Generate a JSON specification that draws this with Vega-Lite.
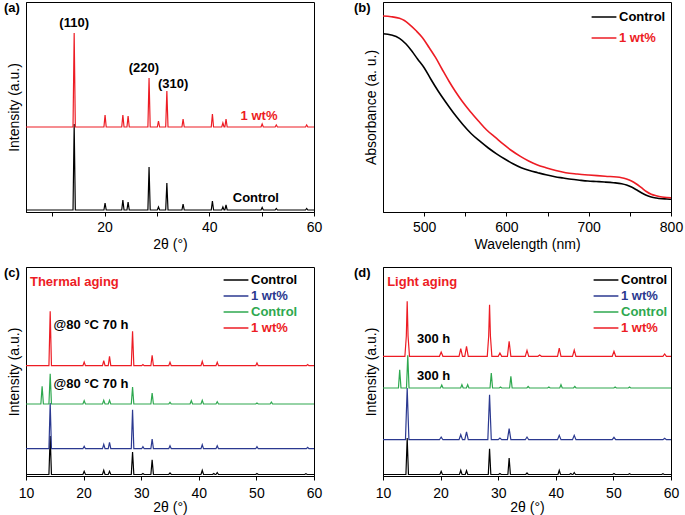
{
"$schema":"https://vega.github.io/schema/vega-lite/v6.json",
"padding":{"left":3,"top":1,"right":0,"bottom":0},
"config":{"font":"Liberation Sans","view":{"stroke":"black","strokeWidth":1},
"axis":{"grid":false,"domainColor":"black","tickColor":"black","tickSize":4,"labelFontSize":14,"labelColor":"black","titleFontSize":14,"titleFontWeight":"normal","titleColor":"black","labelFlush":false,"labelOverlap":false},
"axisY":{"labels":false,"ticks":false,"titlePadding":5},
"legend":{"orient":"none","symbolType":"M-1.55,0H1.55","symbolSize":256,"symbolStrokeWidth":1.5,"labelFontSize":13,"labelFontWeight":"bold","labelOffset":6,"padding":0},
"title":{"fontSize":13,"fontWeight":"bold","anchor":"start","frame":"bounds","offset":-13,"color":"black"}},
"datasets":{
"a":[
{"s":"Control","x":5,"y":2},{"s":"Control","x":13.98,"y":2},{"s":"Control","x":14.2,"y":88},{"s":"Control","x":14.42,"y":2},{"s":"Control","x":19.88,"y":2},{"s":"Control","x":20.1,"y":9},{"s":"Control","x":20.32,"y":2},{"s":"Control","x":23.28,"y":2},{"s":"Control","x":23.5,"y":12},{"s":"Control","x":23.72,"y":2},{"s":"Control","x":24.28,"y":2},{"s":"Control","x":24.5,"y":10},{"s":"Control","x":24.72,"y":2},{"s":"Control","x":28.28,"y":2},{"s":"Control","x":28.5,"y":45},{"s":"Control","x":28.72,"y":2},{"s":"Control","x":30.08,"y":2},{"s":"Control","x":30.3,"y":5},{"s":"Control","x":30.52,"y":2},{"s":"Control","x":31.68,"y":2},{"s":"Control","x":31.9,"y":29},{"s":"Control","x":32.12,"y":2},{"s":"Control","x":34.78,"y":2},{"s":"Control","x":35,"y":8},{"s":"Control","x":35.22,"y":2},{"s":"Control","x":40.38,"y":2},{"s":"Control","x":40.6,"y":11},{"s":"Control","x":40.82,"y":2},{"s":"Control","x":42.38,"y":2},{"s":"Control","x":42.6,"y":5},{"s":"Control","x":42.82,"y":2},{"s":"Control","x":42.98,"y":2},{"s":"Control","x":43.2,"y":7},{"s":"Control","x":43.42,"y":2},{"s":"Control","x":49.88,"y":2},{"s":"Control","x":50.1,"y":4.5},{"s":"Control","x":50.32,"y":2},{"s":"Control","x":52.58,"y":2},{"s":"Control","x":52.8,"y":3.5},{"s":"Control","x":53.02,"y":2},{"s":"Control","x":58.38,"y":2},{"s":"Control","x":58.6,"y":3.5},{"s":"Control","x":58.82,"y":2},{"s":"Control","x":60,"y":2},
{"s":"1 wt%","x":5,"y":85},{"s":"1 wt%","x":13.98,"y":85},{"s":"1 wt%","x":14.2,"y":179},{"s":"1 wt%","x":14.42,"y":85},{"s":"1 wt%","x":19.88,"y":85},{"s":"1 wt%","x":20.1,"y":97},{"s":"1 wt%","x":20.32,"y":85},{"s":"1 wt%","x":23.28,"y":85},{"s":"1 wt%","x":23.5,"y":97},{"s":"1 wt%","x":23.72,"y":85},{"s":"1 wt%","x":24.28,"y":85},{"s":"1 wt%","x":24.5,"y":96},{"s":"1 wt%","x":24.72,"y":85},{"s":"1 wt%","x":28.28,"y":85},{"s":"1 wt%","x":28.5,"y":134},{"s":"1 wt%","x":28.72,"y":85},{"s":"1 wt%","x":30.08,"y":85},{"s":"1 wt%","x":30.3,"y":91},{"s":"1 wt%","x":30.52,"y":85},{"s":"1 wt%","x":31.68,"y":85},{"s":"1 wt%","x":31.9,"y":121},{"s":"1 wt%","x":32.12,"y":85},{"s":"1 wt%","x":34.78,"y":85},{"s":"1 wt%","x":35,"y":93},{"s":"1 wt%","x":35.22,"y":85},{"s":"1 wt%","x":40.38,"y":85},{"s":"1 wt%","x":40.6,"y":98},{"s":"1 wt%","x":40.82,"y":85},{"s":"1 wt%","x":42.38,"y":85},{"s":"1 wt%","x":42.6,"y":89},{"s":"1 wt%","x":42.82,"y":85},{"s":"1 wt%","x":42.98,"y":85},{"s":"1 wt%","x":43.2,"y":93},{"s":"1 wt%","x":43.42,"y":85},{"s":"1 wt%","x":49.88,"y":85},{"s":"1 wt%","x":50.1,"y":88},{"s":"1 wt%","x":50.32,"y":85},{"s":"1 wt%","x":52.58,"y":85},{"s":"1 wt%","x":52.8,"y":87},{"s":"1 wt%","x":53.02,"y":85},{"s":"1 wt%","x":58.38,"y":85},{"s":"1 wt%","x":58.6,"y":87},{"s":"1 wt%","x":58.82,"y":85},{"s":"1 wt%","x":60,"y":85}
],
"aLab":[{"t":"(110)","x":14.2,"y":189},{"t":"(220)","x":27.5,"y":144},{"t":"(310)","x":33.1,"y":128},{"t":"1 wt%","x":49.5,"y":96},{"t":"Control","x":48.9,"y":14}],
"b":[
{"s":"Control","x":450,"y":178.3},{"s":"Control","x":460,"y":177},{"s":"Control","x":470,"y":173.7},{"s":"Control","x":478,"y":168},{"s":"Control","x":485,"y":161},{"s":"Control","x":492,"y":153},{"s":"Control","x":500,"y":144.3},{"s":"Control","x":508,"y":133},{"s":"Control","x":517,"y":121},{"s":"Control","x":527,"y":109},{"s":"Control","x":537,"y":97.7},{"s":"Control","x":547,"y":87.5},{"s":"Control","x":557,"y":78.5},{"s":"Control","x":567,"y":71.3},{"s":"Control","x":578,"y":64},{"s":"Control","x":588,"y":58.2},{"s":"Control","x":598,"y":53},{"s":"Control","x":608,"y":48.3},{"s":"Control","x":618,"y":44.3},{"s":"Control","x":628,"y":41.5},{"s":"Control","x":638,"y":39.3},{"s":"Control","x":648,"y":37.2},{"s":"Control","x":659,"y":35.3},{"s":"Control","x":669,"y":34},{"s":"Control","x":679,"y":32.7},{"s":"Control","x":689,"y":31.8},{"s":"Control","x":699,"y":31},{"s":"Control","x":709,"y":30.5},{"s":"Control","x":719,"y":30},{"s":"Control","x":730,"y":29.3},{"s":"Control","x":740,"y":28.3},{"s":"Control","x":746,"y":27},{"s":"Control","x":752,"y":25},{"s":"Control","x":758,"y":22.2},{"s":"Control","x":764,"y":19.3},{"s":"Control","x":770,"y":16.8},{"s":"Control","x":776,"y":15},{"s":"Control","x":782,"y":14},{"s":"Control","x":789,"y":13.3},{"s":"Control","x":795,"y":13},{"s":"Control","x":800,"y":12.7},
{"s":"1 wt%","x":450,"y":196},{"s":"1 wt%","x":460,"y":195.3},{"s":"1 wt%","x":470,"y":193.7},{"s":"1 wt%","x":476,"y":191.5},{"s":"1 wt%","x":482,"y":187.7},{"s":"1 wt%","x":490,"y":181.5},{"s":"1 wt%","x":498,"y":174.3},{"s":"1 wt%","x":506,"y":164.5},{"s":"1 wt%","x":514,"y":154.3},{"s":"1 wt%","x":522,"y":142.5},{"s":"1 wt%","x":530,"y":131},{"s":"1 wt%","x":538,"y":120.5},{"s":"1 wt%","x":546,"y":111},{"s":"1 wt%","x":556,"y":100.5},{"s":"1 wt%","x":566,"y":91},{"s":"1 wt%","x":576,"y":82},{"s":"1 wt%","x":587,"y":74.3},{"s":"1 wt%","x":597,"y":67.3},{"s":"1 wt%","x":607,"y":61},{"s":"1 wt%","x":617,"y":55.6},{"s":"1 wt%","x":627,"y":51},{"s":"1 wt%","x":637,"y":47.3},{"s":"1 wt%","x":648,"y":44.3},{"s":"1 wt%","x":660,"y":41.5},{"s":"1 wt%","x":672,"y":39.3},{"s":"1 wt%","x":686,"y":38},{"s":"1 wt%","x":700,"y":37},{"s":"1 wt%","x":720,"y":35.8},{"s":"1 wt%","x":740,"y":34.3},{"s":"1 wt%","x":746,"y":33},{"s":"1 wt%","x":752,"y":31},{"s":"1 wt%","x":758,"y":28},{"s":"1 wt%","x":764,"y":24.3},{"s":"1 wt%","x":770,"y":20.5},{"s":"1 wt%","x":776,"y":17.7},{"s":"1 wt%","x":782,"y":16.2},{"s":"1 wt%","x":789,"y":15},{"s":"1 wt%","x":795,"y":14.5},{"s":"1 wt%","x":800,"y":14.3}
],
"c":[
{"s":"Control","x":10,"y":1.5},{"s":"Control","x":13.98,"y":1.5},{"s":"Control","x":14.2,"y":40},{"s":"Control","x":14.42,"y":1.5},{"s":"Control","x":19.88,"y":1.5},{"s":"Control","x":20.1,"y":4.7},{"s":"Control","x":20.32,"y":1.5},{"s":"Control","x":23.28,"y":1.5},{"s":"Control","x":23.5,"y":5.7},{"s":"Control","x":23.72,"y":1.5},{"s":"Control","x":24.28,"y":1.5},{"s":"Control","x":24.5,"y":4.7},{"s":"Control","x":24.72,"y":1.5},{"s":"Control","x":28.28,"y":1.5},{"s":"Control","x":28.5,"y":24},{"s":"Control","x":28.72,"y":1.5},{"s":"Control","x":30.08,"y":1.5},{"s":"Control","x":30.3,"y":2.5},{"s":"Control","x":30.52,"y":1.5},{"s":"Control","x":31.68,"y":1.5},{"s":"Control","x":31.9,"y":16.3},{"s":"Control","x":32.12,"y":1.5},{"s":"Control","x":34.78,"y":1.5},{"s":"Control","x":35,"y":3},{"s":"Control","x":35.22,"y":1.5},{"s":"Control","x":40.38,"y":1.5},{"s":"Control","x":40.6,"y":5.7},{"s":"Control","x":40.82,"y":1.5},{"s":"Control","x":42.38,"y":1.5},{"s":"Control","x":42.6,"y":2.5},{"s":"Control","x":42.82,"y":1.5},{"s":"Control","x":42.98,"y":1.5},{"s":"Control","x":43.2,"y":3.5},{"s":"Control","x":43.42,"y":1.5},{"s":"Control","x":49.88,"y":1.5},{"s":"Control","x":50.1,"y":2.5},{"s":"Control","x":50.32,"y":1.5},{"s":"Control","x":58.38,"y":1.5},{"s":"Control","x":58.6,"y":2.2},{"s":"Control","x":58.82,"y":1.5},{"s":"Control","x":60,"y":1.5},
{"s":"1 wt%","x":10,"y":27.3},{"s":"1 wt%","x":13.98,"y":27.3},{"s":"1 wt%","x":14.2,"y":73},{"s":"1 wt%","x":14.42,"y":27.3},{"s":"1 wt%","x":19.88,"y":27.3},{"s":"1 wt%","x":20.1,"y":29.7},{"s":"1 wt%","x":20.32,"y":27.3},{"s":"1 wt%","x":23.28,"y":27.3},{"s":"1 wt%","x":23.5,"y":31.7},{"s":"1 wt%","x":23.72,"y":27.3},{"s":"1 wt%","x":24.28,"y":27.3},{"s":"1 wt%","x":24.5,"y":33.7},{"s":"1 wt%","x":24.72,"y":27.3},{"s":"1 wt%","x":28.28,"y":27.3},{"s":"1 wt%","x":28.5,"y":66.3},{"s":"1 wt%","x":28.72,"y":27.3},{"s":"1 wt%","x":30.08,"y":27.3},{"s":"1 wt%","x":30.3,"y":29.3},{"s":"1 wt%","x":30.52,"y":27.3},{"s":"1 wt%","x":31.68,"y":27.3},{"s":"1 wt%","x":31.9,"y":37},{"s":"1 wt%","x":32.12,"y":27.3},{"s":"1 wt%","x":34.78,"y":27.3},{"s":"1 wt%","x":35,"y":30.3},{"s":"1 wt%","x":35.22,"y":27.3},{"s":"1 wt%","x":40.38,"y":27.3},{"s":"1 wt%","x":40.6,"y":31.3},{"s":"1 wt%","x":40.82,"y":27.3},{"s":"1 wt%","x":42.98,"y":27.3},{"s":"1 wt%","x":43.2,"y":30.3},{"s":"1 wt%","x":43.42,"y":27.3},{"s":"1 wt%","x":49.88,"y":27.3},{"s":"1 wt%","x":50.1,"y":29.3},{"s":"1 wt%","x":50.32,"y":27.3},{"s":"1 wt%","x":58.68,"y":27.3},{"s":"1 wt%","x":58.9,"y":28.7},{"s":"1 wt%","x":59.12,"y":27.3},{"s":"1 wt%","x":60,"y":27.3},
{"s":"Control (aged)","x":10,"y":72},{"s":"Control (aged)","x":12.58,"y":72},{"s":"Control (aged)","x":12.8,"y":89.7},{"s":"Control (aged)","x":13.02,"y":72},{"s":"Control (aged)","x":13.98,"y":72},{"s":"Control (aged)","x":14.2,"y":102.3},{"s":"Control (aged)","x":14.42,"y":72},{"s":"Control (aged)","x":19.88,"y":72},{"s":"Control (aged)","x":20.1,"y":75.3},{"s":"Control (aged)","x":20.32,"y":72},{"s":"Control (aged)","x":23.28,"y":72},{"s":"Control (aged)","x":23.5,"y":75.7},{"s":"Control (aged)","x":23.72,"y":72},{"s":"Control (aged)","x":24.28,"y":72},{"s":"Control (aged)","x":24.5,"y":75.7},{"s":"Control (aged)","x":24.72,"y":72},{"s":"Control (aged)","x":28.28,"y":72},{"s":"Control (aged)","x":28.5,"y":89},{"s":"Control (aged)","x":28.72,"y":72},{"s":"Control (aged)","x":31.68,"y":72},{"s":"Control (aged)","x":31.9,"y":83},{"s":"Control (aged)","x":32.12,"y":72},{"s":"Control (aged)","x":34.78,"y":72},{"s":"Control (aged)","x":35,"y":73.7},{"s":"Control (aged)","x":35.22,"y":72},{"s":"Control (aged)","x":38.48,"y":72},{"s":"Control (aged)","x":38.7,"y":75.3},{"s":"Control (aged)","x":38.92,"y":72},{"s":"Control (aged)","x":40.38,"y":72},{"s":"Control (aged)","x":40.6,"y":75.7},{"s":"Control (aged)","x":40.82,"y":72},{"s":"Control (aged)","x":42.98,"y":72},{"s":"Control (aged)","x":43.2,"y":74.3},{"s":"Control (aged)","x":43.42,"y":72},{"s":"Control (aged)","x":49.88,"y":72},{"s":"Control (aged)","x":50.1,"y":73},{"s":"Control (aged)","x":50.32,"y":72},{"s":"Control (aged)","x":52.38,"y":72},{"s":"Control (aged)","x":52.6,"y":74},{"s":"Control (aged)","x":52.82,"y":72},{"s":"Control (aged)","x":60,"y":72},
{"s":"1 wt% (aged)","x":10,"y":110.3},{"s":"1 wt% (aged)","x":13.98,"y":110.3},{"s":"1 wt% (aged)","x":14.2,"y":164.7},{"s":"1 wt% (aged)","x":14.42,"y":110.3},{"s":"1 wt% (aged)","x":19.88,"y":110.3},{"s":"1 wt% (aged)","x":20.1,"y":114},{"s":"1 wt% (aged)","x":20.32,"y":110.3},{"s":"1 wt% (aged)","x":23.28,"y":110.3},{"s":"1 wt% (aged)","x":23.5,"y":115.3},{"s":"1 wt% (aged)","x":23.72,"y":110.3},{"s":"1 wt% (aged)","x":24.28,"y":110.3},{"s":"1 wt% (aged)","x":24.5,"y":119.7},{"s":"1 wt% (aged)","x":24.72,"y":110.3},{"s":"1 wt% (aged)","x":28.28,"y":110.3},{"s":"1 wt% (aged)","x":28.5,"y":144.7},{"s":"1 wt% (aged)","x":28.72,"y":110.3},{"s":"1 wt% (aged)","x":30.08,"y":110.3},{"s":"1 wt% (aged)","x":30.3,"y":111.5},{"s":"1 wt% (aged)","x":30.52,"y":110.3},{"s":"1 wt% (aged)","x":31.68,"y":110.3},{"s":"1 wt% (aged)","x":31.9,"y":120.7},{"s":"1 wt% (aged)","x":32.12,"y":110.3},{"s":"1 wt% (aged)","x":34.78,"y":110.3},{"s":"1 wt% (aged)","x":35,"y":113.7},{"s":"1 wt% (aged)","x":35.22,"y":110.3},{"s":"1 wt% (aged)","x":40.38,"y":110.3},{"s":"1 wt% (aged)","x":40.6,"y":114.7},{"s":"1 wt% (aged)","x":40.82,"y":110.3},{"s":"1 wt% (aged)","x":42.98,"y":110.3},{"s":"1 wt% (aged)","x":43.2,"y":113.7},{"s":"1 wt% (aged)","x":43.42,"y":110.3},{"s":"1 wt% (aged)","x":49.88,"y":110.3},{"s":"1 wt% (aged)","x":50.1,"y":113},{"s":"1 wt% (aged)","x":50.32,"y":110.3},{"s":"1 wt% (aged)","x":58.68,"y":110.3},{"s":"1 wt% (aged)","x":58.9,"y":111.5},{"s":"1 wt% (aged)","x":59.12,"y":110.3},{"s":"1 wt% (aged)","x":60,"y":110.3}
],
"cLab":[{"t":"Thermal aging","x":18.4,"y":194},{"t":"@80 °C 70 h","x":21.3,"y":150.7},{"t":"@80 °C 70 h","x":21.3,"y":92.3}],
"d":[
{"s":"Control","x":10,"y":1.5},{"s":"Control","x":13.98,"y":1.5},{"s":"Control","x":14.2,"y":38},{"s":"Control","x":14.42,"y":1.5},{"s":"Control","x":19.88,"y":1.5},{"s":"Control","x":20.1,"y":4.7},{"s":"Control","x":20.32,"y":1.5},{"s":"Control","x":23.28,"y":1.5},{"s":"Control","x":23.5,"y":5.7},{"s":"Control","x":23.72,"y":1.5},{"s":"Control","x":24.28,"y":1.5},{"s":"Control","x":24.5,"y":5.3},{"s":"Control","x":24.72,"y":1.5},{"s":"Control","x":28.28,"y":1.5},{"s":"Control","x":28.5,"y":27.3},{"s":"Control","x":28.72,"y":1.5},{"s":"Control","x":30.08,"y":1.5},{"s":"Control","x":30.3,"y":2.5},{"s":"Control","x":30.52,"y":1.5},{"s":"Control","x":31.68,"y":1.5},{"s":"Control","x":31.9,"y":18},{"s":"Control","x":32.12,"y":1.5},{"s":"Control","x":34.78,"y":1.5},{"s":"Control","x":35,"y":3},{"s":"Control","x":35.22,"y":1.5},{"s":"Control","x":40.38,"y":1.5},{"s":"Control","x":40.6,"y":5.7},{"s":"Control","x":40.82,"y":1.5},{"s":"Control","x":42.38,"y":1.5},{"s":"Control","x":42.6,"y":2.5},{"s":"Control","x":42.82,"y":1.5},{"s":"Control","x":42.98,"y":1.5},{"s":"Control","x":43.2,"y":3.5},{"s":"Control","x":43.42,"y":1.5},{"s":"Control","x":49.88,"y":1.5},{"s":"Control","x":50.1,"y":2.5},{"s":"Control","x":50.32,"y":1.5},{"s":"Control","x":52.58,"y":1.5},{"s":"Control","x":52.8,"y":2.2},{"s":"Control","x":53.02,"y":1.5},{"s":"Control","x":58.38,"y":1.5},{"s":"Control","x":58.6,"y":2.2},{"s":"Control","x":58.82,"y":1.5},{"s":"Control","x":60,"y":1.5},
{"s":"1 wt%","x":10,"y":36.3},{"s":"1 wt%","x":13.9,"y":36.3},{"s":"1 wt%","x":14.2,"y":88},{"s":"1 wt%","x":14.5,"y":36.3},{"s":"1 wt%","x":19.8,"y":36.3},{"s":"1 wt%","x":20.1,"y":39},{"s":"1 wt%","x":20.4,"y":36.3},{"s":"1 wt%","x":23.2,"y":36.3},{"s":"1 wt%","x":23.5,"y":41.3},{"s":"1 wt%","x":23.8,"y":36.3},{"s":"1 wt%","x":24.2,"y":36.3},{"s":"1 wt%","x":24.5,"y":44},{"s":"1 wt%","x":24.8,"y":36.3},{"s":"1 wt%","x":28.2,"y":36.3},{"s":"1 wt%","x":28.5,"y":81.3},{"s":"1 wt%","x":28.8,"y":36.3},{"s":"1 wt%","x":30,"y":36.3},{"s":"1 wt%","x":30.3,"y":38},{"s":"1 wt%","x":30.6,"y":36.3},{"s":"1 wt%","x":31.6,"y":36.3},{"s":"1 wt%","x":31.9,"y":47.3},{"s":"1 wt%","x":32.2,"y":36.3},{"s":"1 wt%","x":34.7,"y":36.3},{"s":"1 wt%","x":35,"y":39},{"s":"1 wt%","x":35.3,"y":36.3},{"s":"1 wt%","x":40.3,"y":36.3},{"s":"1 wt%","x":40.6,"y":40.7},{"s":"1 wt%","x":40.9,"y":36.3},{"s":"1 wt%","x":42.9,"y":36.3},{"s":"1 wt%","x":43.2,"y":40.7},{"s":"1 wt%","x":43.5,"y":36.3},{"s":"1 wt%","x":49.8,"y":36.3},{"s":"1 wt%","x":50.1,"y":38.7},{"s":"1 wt%","x":50.4,"y":36.3},{"s":"1 wt%","x":58.6,"y":36.3},{"s":"1 wt%","x":58.9,"y":37.7},{"s":"1 wt%","x":59.2,"y":36.3},{"s":"1 wt%","x":60,"y":36.3},
{"s":"Control (aged)","x":10,"y":88},{"s":"Control (aged)","x":12.68,"y":88},{"s":"Control (aged)","x":12.9,"y":106.3},{"s":"Control (aged)","x":13.12,"y":88},{"s":"Control (aged)","x":14.08,"y":88},{"s":"Control (aged)","x":14.3,"y":120.7},{"s":"Control (aged)","x":14.52,"y":88},{"s":"Control (aged)","x":19.98,"y":88},{"s":"Control (aged)","x":20.2,"y":91},{"s":"Control (aged)","x":20.42,"y":88},{"s":"Control (aged)","x":23.48,"y":88},{"s":"Control (aged)","x":23.7,"y":91.3},{"s":"Control (aged)","x":23.92,"y":88},{"s":"Control (aged)","x":24.48,"y":88},{"s":"Control (aged)","x":24.7,"y":91.3},{"s":"Control (aged)","x":24.92,"y":88},{"s":"Control (aged)","x":28.58,"y":88},{"s":"Control (aged)","x":28.8,"y":103},{"s":"Control (aged)","x":29.02,"y":88},{"s":"Control (aged)","x":30.18,"y":88},{"s":"Control (aged)","x":30.4,"y":89},{"s":"Control (aged)","x":30.62,"y":88},{"s":"Control (aged)","x":31.98,"y":88},{"s":"Control (aged)","x":32.2,"y":99.7},{"s":"Control (aged)","x":32.42,"y":88},{"s":"Control (aged)","x":34.98,"y":88},{"s":"Control (aged)","x":35.2,"y":89.5},{"s":"Control (aged)","x":35.42,"y":88},{"s":"Control (aged)","x":38.58,"y":88},{"s":"Control (aged)","x":38.8,"y":89},{"s":"Control (aged)","x":39.02,"y":88},{"s":"Control (aged)","x":40.68,"y":88},{"s":"Control (aged)","x":40.9,"y":91.3},{"s":"Control (aged)","x":41.12,"y":88},{"s":"Control (aged)","x":43.08,"y":88},{"s":"Control (aged)","x":43.3,"y":89.5},{"s":"Control (aged)","x":43.52,"y":88},{"s":"Control (aged)","x":50.08,"y":88},{"s":"Control (aged)","x":50.3,"y":89},{"s":"Control (aged)","x":50.52,"y":88},{"s":"Control (aged)","x":52.58,"y":88},{"s":"Control (aged)","x":52.8,"y":89},{"s":"Control (aged)","x":53.02,"y":88},{"s":"Control (aged)","x":60,"y":88},
{"s":"1 wt% (aged)","x":10,"y":119.7},{"s":"1 wt% (aged)","x":13.8,"y":119.7},{"s":"1 wt% (aged)","x":14.05,"y":140},{"s":"1 wt% (aged)","x":14.2,"y":174.7},{"s":"1 wt% (aged)","x":14.35,"y":140},{"s":"1 wt% (aged)","x":14.6,"y":119.7},{"s":"1 wt% (aged)","x":19.8,"y":119.7},{"s":"1 wt% (aged)","x":20.1,"y":124},{"s":"1 wt% (aged)","x":20.4,"y":119.7},{"s":"1 wt% (aged)","x":23.2,"y":119.7},{"s":"1 wt% (aged)","x":23.5,"y":127.3},{"s":"1 wt% (aged)","x":23.8,"y":119.7},{"s":"1 wt% (aged)","x":24.2,"y":119.7},{"s":"1 wt% (aged)","x":24.5,"y":129.7},{"s":"1 wt% (aged)","x":24.8,"y":119.7},{"s":"1 wt% (aged)","x":28.1,"y":119.7},{"s":"1 wt% (aged)","x":28.35,"y":140},{"s":"1 wt% (aged)","x":28.5,"y":171.3},{"s":"1 wt% (aged)","x":28.65,"y":140},{"s":"1 wt% (aged)","x":28.9,"y":119.7},{"s":"1 wt% (aged)","x":30,"y":119.7},{"s":"1 wt% (aged)","x":30.3,"y":123},{"s":"1 wt% (aged)","x":30.6,"y":119.7},{"s":"1 wt% (aged)","x":31.6,"y":119.7},{"s":"1 wt% (aged)","x":31.9,"y":134.7},{"s":"1 wt% (aged)","x":32.2,"y":119.7},{"s":"1 wt% (aged)","x":34.7,"y":119.7},{"s":"1 wt% (aged)","x":35,"y":125.7},{"s":"1 wt% (aged)","x":35.3,"y":119.7},{"s":"1 wt% (aged)","x":36.9,"y":119.7},{"s":"1 wt% (aged)","x":37.2,"y":121},{"s":"1 wt% (aged)","x":37.5,"y":119.7},{"s":"1 wt% (aged)","x":40.3,"y":119.7},{"s":"1 wt% (aged)","x":40.6,"y":128},{"s":"1 wt% (aged)","x":40.9,"y":119.7},{"s":"1 wt% (aged)","x":42.9,"y":119.7},{"s":"1 wt% (aged)","x":43.2,"y":126},{"s":"1 wt% (aged)","x":43.5,"y":119.7},{"s":"1 wt% (aged)","x":49.8,"y":119.7},{"s":"1 wt% (aged)","x":50.1,"y":124.7},{"s":"1 wt% (aged)","x":50.4,"y":119.7},{"s":"1 wt% (aged)","x":58.6,"y":119.7},{"s":"1 wt% (aged)","x":58.9,"y":122},{"s":"1 wt% (aged)","x":59.2,"y":119.7},{"s":"1 wt% (aged)","x":60,"y":119.7}
],
"dLab":[{"t":"Light aging","x":16.8,"y":194},{"t":"300 h","x":18.8,"y":137},{"t":"300 h","x":18.8,"y":100.3}]
},
"columns":2,
"spacing":{"row":55,"column":69},
"bounds":"flush",
"resolve":{"scale":{"color":"independent","x":"independent","y":"independent"},"legend":{"color":"independent"}},
"concat":[
{"width":288,"height":210,"title":{"text":"(a)","dx":-3},
"layer":[
{"data":{"name":"a"},"mark":{"type":"line","strokeWidth":1.2,"clip":true},
"encoding":{"x":{"field":"x","type":"quantitative","scale":{"domain":[5,60],"nice":false,"zero":false},"axis":{"values":[10,20,30,40,50,60],"labelExpr":"datum.value % 20 == 0 ? datum.label : ''","title":"2θ (°)","labelPadding":4,"titlePadding":3}},
"y":{"field":"y","type":"quantitative","scale":{"domain":[0,210],"nice":false,"zero":false},"axis":{"title":"Intensity (a.u.)"}},
"color":{"field":"s","type":"nominal","scale":{"domain":["Control","1 wt%"],"range":["#000000","#ed1c24"]},"legend":null}}},
{"data":{"name":"aLab"},"transform":[{"filter":"datum.t != '1 wt%'"}],"mark":{"type":"text","fontSize":13,"fontWeight":"bold","color":"#000000"},
"encoding":{"x":{"field":"x","type":"quantitative"},"y":{"field":"y","type":"quantitative"},"text":{"field":"t"}}},
{"data":{"name":"aLab"},"transform":[{"filter":"datum.t == '1 wt%'"}],"mark":{"type":"text","fontSize":13,"fontWeight":"bold","color":"#ed1c24"},
"encoding":{"x":{"field":"x","type":"quantitative"},"y":{"field":"y","type":"quantitative"},"text":{"field":"t"}}}
]},
{"width":288,"height":210,"title":{"text":"(b)","dx":-10},
"data":{"name":"b"},"mark":{"type":"line","strokeWidth":1.6,"clip":true,"interpolate":"monotone"},
"encoding":{"x":{"field":"x","type":"quantitative","scale":{"domain":[450,800],"nice":false,"zero":false},"axis":{"values":[500,550,600,650,700,750,800],"labelExpr":"datum.value % 100 == 0 ? datum.label : ''","title":"Wavelength (nm)","labelPadding":4,"titlePadding":3}},
"y":{"field":"y","type":"quantitative","scale":{"domain":[0,210],"nice":false,"zero":false},"axis":{"title":"Absorbance (a. u.)"}},
"color":{"field":"s","type":"nominal","scale":{"domain":["Control","1 wt%"],"range":["#000000","#ed1c24"]},
"legend":{"title":null,"legendX":212,"legendY":6,"rowPadding":5,"labelColor":{"expr":"datum.value == '1 wt%' ? '#ed1c24' : '#000000'"}}}}},
{"width":288,"height":209,"title":{"text":"(c)","dx":-3},
"layer":[
{"data":{"name":"c"},"mark":{"type":"line","strokeWidth":1.2,"clip":true},
"encoding":{"x":{"field":"x","type":"quantitative","scale":{"domain":[10,60],"nice":false,"zero":false},"axis":{"values":[10,20,30,40,50,60],"title":"2θ (°)","labelPadding":6,"titlePadding":0}},
"y":{"field":"y","type":"quantitative","scale":{"domain":[0,209],"nice":false,"zero":false},"axis":{"title":"Intensity (a.u.)"}},
"color":{"field":"s","type":"nominal","scale":{"domain":["Control","1 wt%","Control (aged)","1 wt% (aged)"],"range":["#000000","#2b3990","#2ea84f","#ed1c24"]},
"legend":{"title":null,"legendX":201,"legendY":4,"rowPadding":0,"labelExpr":"replace(datum.label, ' (aged)', '')","labelColor":{"expr":"datum.value == '1 wt%' ? '#2b3990' : datum.value == 'Control (aged)' ? '#2ea84f' : datum.value == '1 wt% (aged)' ? '#ed1c24' : '#000000'"}}}}},
{"data":{"name":"cLab"},"transform":[{"filter":"datum.t != 'Thermal aging'"}],"mark":{"type":"text","fontSize":13,"fontWeight":"bold","color":"#000000"},
"encoding":{"x":{"field":"x","type":"quantitative"},"y":{"field":"y","type":"quantitative"},"text":{"field":"t"}}},
{"data":{"name":"cLab"},"transform":[{"filter":"datum.t == 'Thermal aging'"}],"mark":{"type":"text","fontSize":13,"fontWeight":"bold","color":"#ed1c24"},
"encoding":{"x":{"field":"x","type":"quantitative"},"y":{"field":"y","type":"quantitative"},"text":{"field":"t"}}}
]},
{"width":288,"height":209,"title":{"text":"(d)","dx":-10},
"layer":[
{"data":{"name":"d"},"mark":{"type":"line","strokeWidth":1.2,"clip":true},
"encoding":{"x":{"field":"x","type":"quantitative","scale":{"domain":[10,60],"nice":false,"zero":false},"axis":{"values":[10,20,30,40,50,60],"title":"2θ (°)","labelPadding":6,"titlePadding":0}},
"y":{"field":"y","type":"quantitative","scale":{"domain":[0,209],"nice":false,"zero":false},"axis":{"title":"Intensity (a.u.)"}},
"color":{"field":"s","type":"nominal","scale":{"domain":["Control","1 wt%","Control (aged)","1 wt% (aged)"],"range":["#000000","#2b3990","#2ea84f","#ed1c24"]},
"legend":{"title":null,"legendX":214,"legendY":4,"rowPadding":0,"labelExpr":"replace(datum.label, ' (aged)', '')","labelColor":{"expr":"datum.value == '1 wt%' ? '#2b3990' : datum.value == 'Control (aged)' ? '#2ea84f' : datum.value == '1 wt% (aged)' ? '#ed1c24' : '#000000'"}}}}},
{"data":{"name":"dLab"},"transform":[{"filter":"datum.t != 'Light aging'"}],"mark":{"type":"text","fontSize":13,"fontWeight":"bold","color":"#000000"},
"encoding":{"x":{"field":"x","type":"quantitative"},"y":{"field":"y","type":"quantitative"},"text":{"field":"t"}}},
{"data":{"name":"dLab"},"transform":[{"filter":"datum.t == 'Light aging'"}],"mark":{"type":"text","fontSize":13,"fontWeight":"bold","color":"#ed1c24"},
"encoding":{"x":{"field":"x","type":"quantitative"},"y":{"field":"y","type":"quantitative"},"text":{"field":"t"}}}
]}
]
}
